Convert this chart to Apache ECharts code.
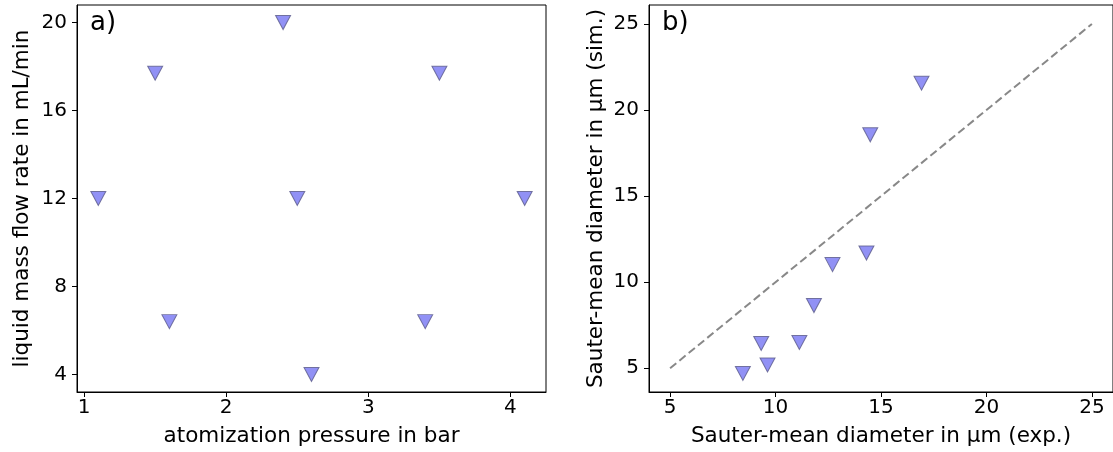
<!DOCTYPE html>
<html>
<head>
<meta charset="utf-8">
<script src="https://cdn.jsdelivr.net/npm/echarts@6/dist/echarts.min.js"></script>
<style>
  html, body { margin: 0; padding: 0; background: #fff; }
  #chart { width: 1113px; height: 452px; }
</style>
</head>
<body>
<div id="chart"></div>
<script>
// Panel a) operating points
const pressure = [1.1, 1.5, 2.4, 3.5, 2.5, 4.1, 1.6, 3.4, 2.6];
const flowRate = [12, 17.7, 20, 17.7, 12, 12, 6.4, 6.4, 4];
const pressureTicks = [1, 2, 3, 4];
const flowTicks = [4, 8, 12, 16, 20];

// Panel b) parity plot
const d32Exp = [8.45, 9.32, 9.62, 11.13, 11.82, 12.70, 14.31, 14.49, 16.92];
const d32Sim = [4.7, 6.44, 5.19, 6.5, 8.64, 11.02, 11.69, 18.56, 21.56];
const parityLine = [5, 25];
const d32Ticks = [5, 10, 15, 20, 25];

const FONT = 'DejaVu Sans';
const TICK_FS = 20;
const NAME_FS = 21.5;
const markerStyle = {
  color: '#7676f2',
  borderColor: '#5a5a8a',
  borderWidth: 1
};

function valueAxis(gridIndex, min, max, ticks, name, nameGap, labelMargin) {
  return {
    type: 'value', gridIndex: gridIndex, min: min, max: max,
    name: name, nameLocation: 'middle', nameGap: nameGap,
    nameTextStyle: { fontFamily: FONT, fontSize: NAME_FS, color: '#000' },
    axisLine: { show: true, onZero: false, lineStyle: { color: '#000', width: 1 } },
    axisTick: { show: true, length: 5, customValues: ticks, lineStyle: { color: '#000', width: 1 } },
    axisLabel: { customValues: ticks, fontFamily: FONT, fontSize: TICK_FS, color: '#000', margin: labelMargin },
    splitLine: { show: false }
  };
}

const chart = echarts.init(document.getElementById('chart'), null, { renderer: 'canvas' });
chart.setOption({
  animation: false,
  backgroundColor: '#fff',
  title: [
    { text: 'a)', left: 85, top: 5, textStyle: { fontFamily: FONT, fontSize: 26, fontWeight: 'normal', color: '#000' } },
    { text: 'b)', left: 657, top: 5, textStyle: { fontFamily: FONT, fontSize: 26, fontWeight: 'normal', color: '#000' } }
  ],
  grid: [
    { left: 77, right: 567, top: 5, bottom: 58, show: true, borderColor: '#000', borderWidth: 1, backgroundColor: 'transparent' },
    { left: 649, right: -5, top: 5, bottom: 58, show: true, borderColor: '#000', borderWidth: 1, backgroundColor: 'transparent' }
  ],
  xAxis: [
    valueAxis(0, 0.95, 4.25, pressureTicks, 'atomization pressure in bar', 33, 6),
    valueAxis(1, 4, 26, d32Ticks, 'Sauter-mean diameter in µm (exp.)', 33, 6)
  ],
  yAxis: [
    valueAxis(0, 3.2, 20.8, flowTicks, 'liquid mass flow rate in mL/min', 44, 10),
    valueAxis(1, 3.62, 26.1, d32Ticks, 'Sauter-mean diameter in µm (sim.)', 42, 10)
  ],
  series: [
    {
      type: 'scatter', xAxisIndex: 0, yAxisIndex: 0,
      data: pressure.map((p, i) => [p, flowRate[i]]),
      symbol: 'triangle', symbolRotate: 180, symbolSize: [15, 14],
      itemStyle: markerStyle
    },
    {
      type: 'line', xAxisIndex: 1, yAxisIndex: 1,
      data: [[parityLine[0], parityLine[0]], [parityLine[1], parityLine[1]]],
      symbol: 'none',
      lineStyle: { color: '#888888', width: 2, type: [8, 4] }
    },
    {
      type: 'scatter', xAxisIndex: 1, yAxisIndex: 1,
      data: d32Exp.map((x, i) => [x, d32Sim[i]]),
      symbol: 'triangle', symbolRotate: 180, symbolSize: [15, 14],
      itemStyle: markerStyle
    }
  ]
});
</script>
</body>
</html>
